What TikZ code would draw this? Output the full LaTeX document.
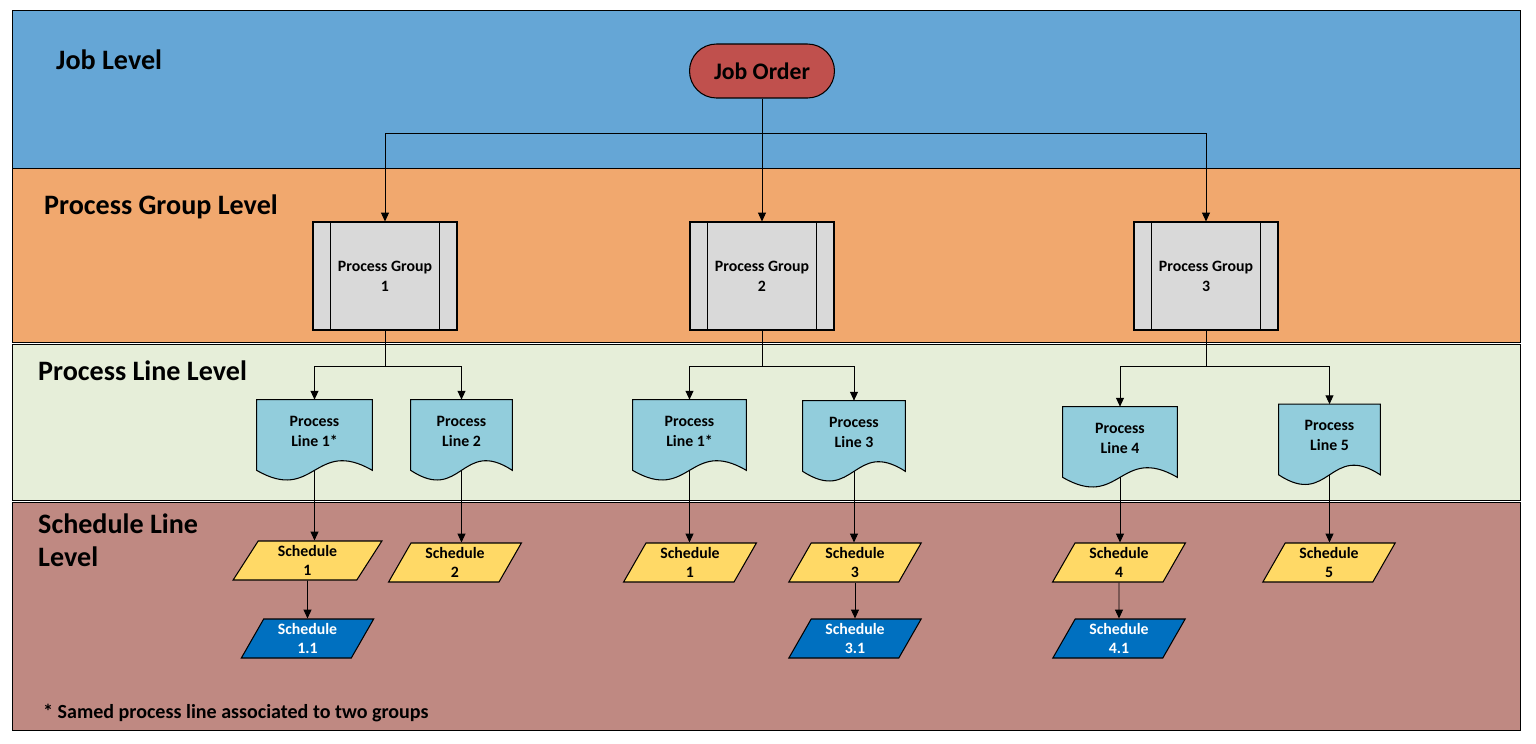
\documentclass[tikz,border=0pt]{standalone}
\usepackage{fontspec}
\setmainfont{Carlito}
\usetikzlibrary{arrows.meta,calc,shapes.geometric,backgrounds}

\definecolor{bandblue}{RGB}{101,166,214}
\definecolor{bandorange}{RGB}{241,168,110}
\definecolor{bandgreen}{RGB}{230,238,217}
\definecolor{bandrose}{RGB}{191,137,130}
\definecolor{jobred}{RGB}{192,80,77}
\definecolor{groupgrey}{RGB}{217,217,217}
\definecolor{lineblue}{RGB}{146,205,220}
\definecolor{schedyellow}{RGB}{255,217,102}
\definecolor{schedblue}{RGB}{0,112,192}

\tikzset{
    band/.style={draw=black, line width=0.5pt},
    leveltitle/.style={anchor=west, align=left, font=\fontsize{16}{18.7}\selectfont\bfseries},
    smalltext/.style={font=\fontsize{9}{11.3}\selectfont\bfseries, align=center},
    jobnode/.style={draw, line width=0.6pt, fill=jobred, rounded corners=0.54cm,
        minimum width=2.9cm, minimum height=1.08cm, font=\fontsize{13.5}{15}\selectfont\bfseries},
    groupnode/.style={draw, line width=0.6pt, fill=groupgrey, smalltext,
        minimum width=2.88cm, minimum height=2.16cm},
    linenode/.style={smalltext, minimum height=1.4cm, inner sep=0pt, text depth=4.5pt},
    linefill/.style={draw, line width=0.6pt, fill=lineblue},
    schednode/.style={trapezium, trapezium left angle=64, trapezium right angle=116,
        trapezium stretches=true, draw, line width=0.6pt, smalltext,
        minimum height=0.78cm, minimum width=2.66cm, inner sep=0pt},
    subsched/.style={schednode, fill=schedblue, text=white},
    conn/.style={line width=0.5pt},
    arr/.style={conn, -{Triangle[length=5pt, width=4.5pt]}}
}

% document shape behind a process line node
\newcommand{\lineshape}[1]{%
    \begin{pgfonlayer}{background}
        \draw[linefill] (#1.north west) -- (#1.north east) -- (#1.south east)
            .. controls ($(#1.south east)!0.5!(#1.south west)+(0,19pt)$)
            and ($(#1.south east)!0.5!(#1.south west)+(0,-19pt)$) .. (#1.south west) -- cycle;
    \end{pgfonlayer}}

% inner side bars of a process group node
\newcommand{\groupsides}[1]{%
    \draw[line width=0.6pt] ([xshift=0.36cm]#1.north west) -- ([xshift=0.36cm]#1.south west);
    \draw[line width=0.6pt] ([xshift=-0.36cm]#1.north east) -- ([xshift=-0.36cm]#1.south east);}

\begin{document}
\begin{tikzpicture}[x=0.02cm, y=-0.02cm]
    \useasboundingbox (0,0) rectangle (1536,744);

    % Level bands
    \begin{pgfonlayer}{background}
        \draw[band, fill=bandblue] (12,10) rectangle (1520,168);
        \draw[band, fill=bandorange] (12,168) rectangle (1520,342);
        \draw[band, fill=bandgreen] (12,344) rectangle (1520,500);
        \draw[band, fill=bandrose] (12,502) rectangle (1520,730);
    \end{pgfonlayer}

    \node[leveltitle] (lvjob) at (50,60) {Job Level};
    \node[leveltitle] (lvgroup) at (38,207) {Process Group Level};
    \node[leveltitle] (lvline) at (32,371) {Process Line Level};
    \node[leveltitle] (lvsched) at (32,540) {Schedule Line\\Level};
    \node[anchor=west, font=\fontsize{11.4}{13}\selectfont\bfseries] (note) at (37,713) {* Samed process line associated to two groups};

    % Job level
    \node[jobnode] (job) at (762,71) {Job Order};

    % Process groups
    \node[groupnode] (pg1) at (385,276) {Process Group\\1};
    \node[groupnode] (pg2) at (762,276) {Process Group\\2};
    \node[groupnode] (pg3) at (1206,276) {Process Group\\3};
    \groupsides{pg1}
    \groupsides{pg2}
    \groupsides{pg3}

    % Process lines
    \node[linenode, minimum width=2.30cm] (pl1a) at (314.5,435) {Process\\Line 1*};
    \node[linenode, minimum width=2.02cm] (pl2) at (461.5,435) {Process\\Line 2};
    \node[linenode, minimum width=2.26cm] (pl1b) at (689.5,435) {Process\\Line 1*};
    \node[linenode, minimum width=2.04cm] (pl3) at (854,436) {Process\\Line 3};
    \node[linenode, minimum width=2.28cm] (pl4) at (1120,442) {Process\\Line 4};
    \node[linenode, minimum width=2.02cm] (pl5) at (1329.5,439.5) {Process\\Line 5};
    \lineshape{pl1a}
    \lineshape{pl2}
    \lineshape{pl1b}
    \lineshape{pl3}
    \lineshape{pl4}
    \lineshape{pl5}

    % Schedules
    \node[schednode, fill=schedyellow, minimum width=2.98cm] (s1a) at (307.5,560.5) {Schedule\\1};
    \node[schednode, fill=schedyellow] (s2) at (455,562.5) {Schedule\\2};
    \node[schednode, fill=schedyellow] (s1b) at (690,562.5) {Schedule\\1};
    \node[schednode, fill=schedyellow] (s3) at (855,562.5) {Schedule\\3};
    \node[schednode, fill=schedyellow] (s4) at (1119,562.5) {Schedule\\4};
    \node[schednode, fill=schedyellow] (s5) at (1329,562.5) {Schedule\\5};
    \node[subsched] (s11) at (307.5,638.5) {Schedule\\1.1};
    \node[subsched] (s31) at (855,638.5) {Schedule\\3.1};
    \node[subsched] (s41) at (1119,638.5) {Schedule\\4.1};

    % Connectors: job to groups
    \coordinate (jobbus) at (job.south |- 0,133);
    \draw[arr] (job.south) -- (pg2.north);
    \draw[arr] (jobbus) -| (pg1.north);
    \draw[arr] (jobbus) -| (pg3.north);

    % Connectors: groups to lines
    \coordinate (g1bus) at (pg1.south |- 0,366);
    \coordinate (g2bus) at (pg2.south |- 0,366);
    \coordinate (g3bus) at (pg3.south |- 0,366);
    \draw[conn] (pg1.south) -- (g1bus);
    \draw[conn] (pg2.south) -- (g2bus);
    \draw[conn] (pg3.south) -- (g3bus);
    \draw[arr] (g1bus) -| (pl1a.north);
    \draw[arr] (g1bus) -| (pl2.north);
    \draw[arr] (g2bus) -| (pl1b.north);
    \draw[arr] (g2bus) -| (pl3.north);
    \draw[arr] (g3bus) -| (pl4.north);
    \draw[arr] (g3bus) -| (pl5.north);

    % Connectors: lines to schedules
    \draw[arr] (pl1a.south) -- (pl1a.south |- s1a.north);
    \draw[arr] (pl2.south) -- (pl2.south |- s2.north);
    \draw[arr] (pl1b.south) -- (pl1b.south |- s1b.north);
    \draw[arr] (pl3.south) -- (pl3.south |- s3.north);
    \draw[arr] (pl4.south) -- (pl4.south |- s4.north);
    \draw[arr] (pl5.south) -- (pl5.south |- s5.north);
    \draw[arr] (s1a.south) -- (s11.north);
    \draw[arr] (s3.south) -- (s31.north);
    \draw[arr] (s4.south) -- (s41.north);
\end{tikzpicture}
\end{document}
